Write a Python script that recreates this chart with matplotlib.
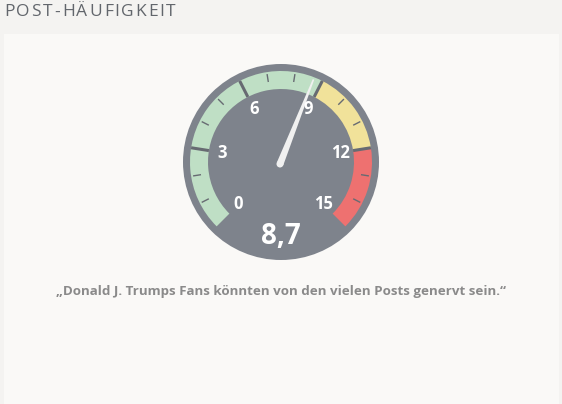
import numpy as np
import matplotlib
matplotlib.use("Agg")
import matplotlib.pyplot as plt
from matplotlib.patches import Wedge, Circle, Polygon, Rectangle

title = "POST-HÄUFIGKEIT"
caption = "\u201eDonald J. Trumps Fans könnten von den vielen Posts genervt sein.\u201c"
value = 8.7
value_label = "8,7"
scale_min, scale_max = 0, 15
zone_starts = [0, 9, 12]
zone_ends = [9, 12, 15]
zone_colors = ["#bfdfc5", "#f1e29a", "#ee7170"]
major_ticks = [0, 3, 6, 9, 12, 15]
minor_ticks = [1, 2, 4, 5, 7, 8, 10, 11, 13, 14]

GRAY = "#7e838c"
TICK = "#676b72"
cx, cy = 281, 162
start_ang, end_ang = 225, -45


def ang(v):
    return start_ang + (end_ang - start_ang) * (v - scale_min) / (scale_max - scale_min)


def pt(v, r):
    a = np.radians(ang(v))
    return cx + r * np.cos(a), cy - r * np.sin(a)


fig = plt.figure(figsize=(5.62, 4.04), dpi=100)
fig.patch.set_facecolor("#f4f3f1")
ax = fig.add_axes([0, 0, 1, 1])
ax.set_xlim(0, 562)
ax.set_ylim(404, 0)
ax.set_aspect("equal")
ax.axis("off")

ax.add_patch(Rectangle((4, 34), 555, 380, color="#faf9f7", lw=0))

# title with a bit of letter spacing, drawn char by char
renderer = fig.canvas.get_renderer()
x = 4.0
for ch in title:
    t = ax.text(x, 16.5, ch, fontsize=12.5, color="#62666c", family="Open Sans",
                va="baseline", ha="left")
    w = t.get_window_extent(renderer).width
    x += w + 1.8

# gauge body
ax.add_patch(Circle((cx, cy), 98, color=GRAY, lw=0))
for s, e, c in zip(zone_starts, zone_ends, zone_colors):
    # y axis points down, so the wedge angles are mirrored
    ax.add_patch(Wedge((cx, cy), 91, -ang(s), -ang(e), width=18, color=c, lw=0))

for t in major_ticks[1:-1]:
    x0, y0 = pt(t, 73)
    x1, y1 = pt(t, 91)
    ax.plot([x0, x1], [y0, y1], color=TICK, lw=2.2, solid_capstyle="butt")
for t in minor_ticks:
    x0, y0 = pt(t, 81)
    x1, y1 = pt(t, 89)
    ax.plot([x0, x1], [y0, y1], color=TICK, lw=1.0, solid_capstyle="butt")

for t in major_ticks:
    x, y = pt(t, 60)
    ax.text(x, y, str(t), fontsize=12, fontweight="bold", color="white",
            family="Open Sans", ha="center", va="center")

# needle
a = np.radians(ang(value))
d = np.array([np.cos(a), -np.sin(a)])
n = np.array([-d[1], d[0]])
base = np.array([cx - 1, cy + 2])
tip = base + d * 91
poly = [base + n * 3.5, tip + n * 0.8, tip - n * 0.8, base - n * 3.5]
ax.add_patch(Polygon(poly, closed=True, color="#f0f0f0", lw=0))
ax.add_patch(Circle(base, 3.5, color="#f0f0f0", lw=0))

ax.text(cx, 236, value_label, fontsize=20, fontweight="bold", color="white",
        family="Open Sans", ha="center", va="center")

ax.text(281, 292, caption, fontsize=9.6, fontweight="bold", color="#8a8a8a",
        family="Open Sans", ha="center", va="center")

fig.savefig("out.png", dpi=100, facecolor=fig.get_facecolor())
